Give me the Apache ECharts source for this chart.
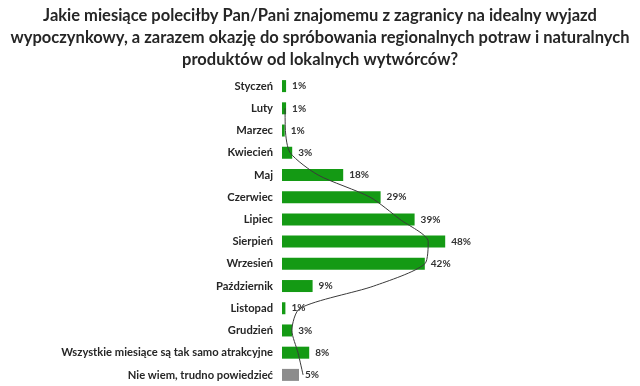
<!DOCTYPE html>
<html>
<head>
<meta charset="utf-8">
<script src="https://cdn.jsdelivr.net/npm/echarts@6/dist/echarts.min.js"></script>
<style>
html,body{margin:0;padding:0;background:#fff;}
#chart{width:640px;height:386px;}
</style>
</head>
<body>
<div id="chart"></div>
<script>
var titleLines = [
  'Jakie miesiące poleciłby Pan/Pani znajomemu z zagranicy na idealny wyjazd',
  'wypoczynkowy, a zarazem okazję do spróbowania regionalnych potraw i naturalnych',
  'produktów od lokalnych wytwórców?'
];
var categories = ['Styczeń','Luty','Marzec','Kwiecień','Maj','Czerwiec','Lipiec','Sierpień','Wrzesień','Październik','Listopad','Grudzień','Wszystkie miesiące są tak samo atrakcyjne','Nie wiem, trudno powiedzieć'];
var values = [1.2, 1.2, 0.8, 3, 18, 29, 39, 48, 42, 9, 1, 3, 8, 5];
var barColors = ['#149a14','#149a14','#149a14','#149a14','#149a14','#149a14','#149a14','#149a14','#149a14','#149a14','#149a14','#149a14','#149a14','#8c8c8c'];
var lineValues = [null, 0.9, 1.0, 2.4, 10.6, 25.9, 34.7, 43, 42, 27, 5.3, 2.9, 4.7, 6.2];

var chart = echarts.init(document.getElementById('chart'));
chart.setOption({
  animation: false,
  title: {
    text: titleLines.join('\n'),
    left: 'center',
    top: 0,
    textStyle: {fontFamily: 'Lato', fontWeight: 'bold', fontSize: 16.5, color: '#262626', lineHeight: 22}
  },
  grid: {left: 282, top: 75, width: 340, height: 311},
  xAxis: {type: 'value', min: 0, max: 100, show: false},
  yAxis: {
    type: 'category', data: categories, inverse: true,
    axisLine: {show: false}, axisTick: {show: false},
    axisLabel: {fontFamily: 'Lato', fontWeight: 'bold', fontSize: 11.2, color: '#262626', margin: 9}
  },
  series: [
    {
      type: 'bar', barWidth: 12,
      data: values.map(function(v, i){ return {value: v, itemStyle: {color: barColors[i]}}; }),
      label: {show: true, position: 'right', distance: 6, formatter: function(p){ return Math.round(p.value) + '%'; },
        fontFamily: 'Lato', fontWeight: 'bold', fontSize: 10, color: '#333'}
    },
    {
      type: 'line', data: lineValues, smooth: 0.25, symbol: 'none',
      lineStyle: {color: '#3a3a3a', width: 1}, connectNulls: false, z: 5
    }
  ]
});
</script>
</body>
</html>
